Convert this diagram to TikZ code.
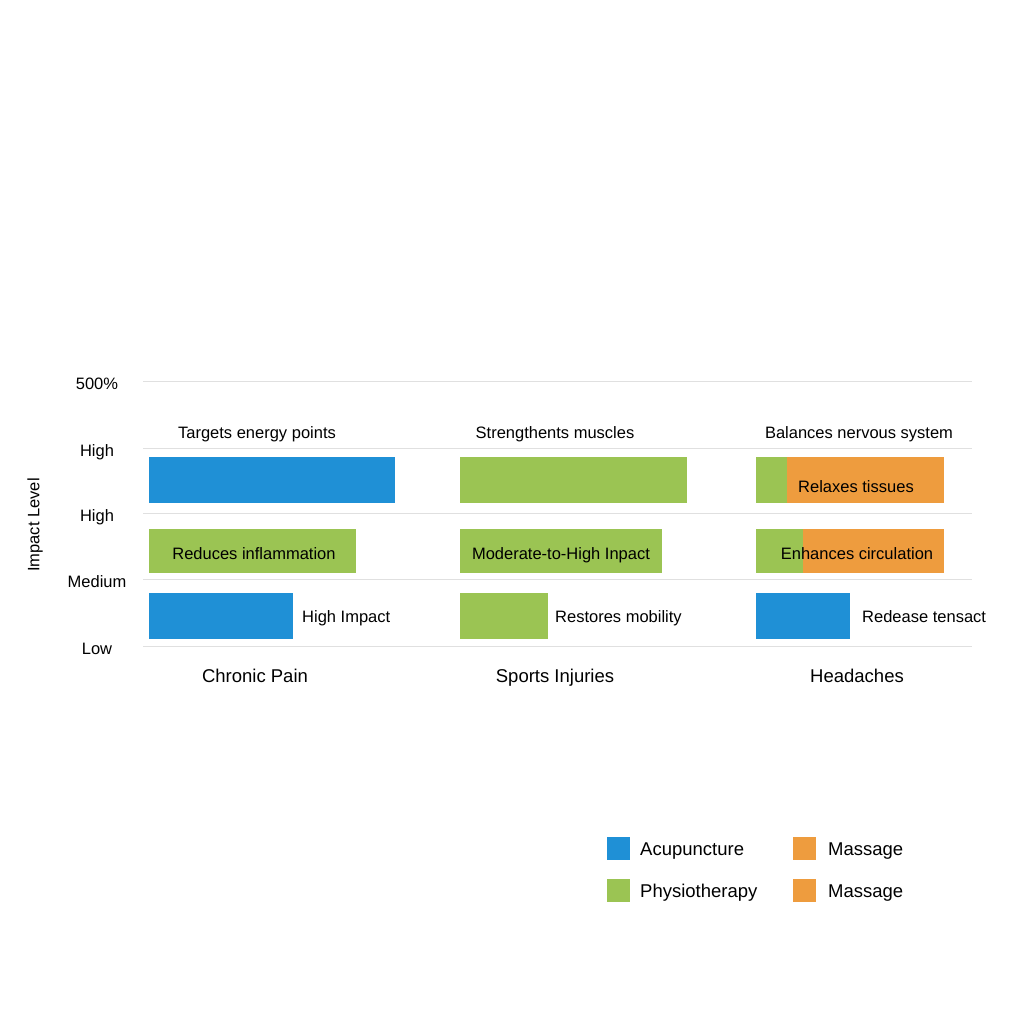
\documentclass[tikz,border=0pt]{standalone}
\usepackage{fontspec}
\setmainfont{Liberation Sans}
\definecolor{acublue}{HTML}{1F90D6}
\definecolor{physgreen}{HTML}{9BC453}
\definecolor{massorange}{HTML}{EE9C3E}
\tikzset{
  bar/.style={inner sep=0pt},
  lbl/.style={font=\fontsize{16.5}{19}\selectfont, inner sep=0pt, anchor=base},
  cat/.style={font=\fontsize{18.5}{21}\selectfont, inner sep=0pt, anchor=base},
  leg/.style={font=\fontsize{18.5}{21}\selectfont, inner sep=0pt, anchor=base west},
  grid/.style={draw=black!12, line width=0.8pt}
}
\begin{document}
\begin{tikzpicture}[x=1pt,y=-1pt]
    \useasboundingbox[fill=white] (0,0) rectangle (1024,1024);

    % grille et axe
    \foreach \y/\t in {381/500\%,448/High,513/High,579/Medium,646/Low}{
        \draw[grid] (143,\y) -- (972,\y);
        \node[lbl] at (97,\y+8) {\t};
    }
    \node[lbl, rotate=90, anchor=center] (axis) at (35,525) {Impact Level};

    % Chronic Pain
    \fill[acublue] (149,457) rectangle (395,503);
    \fill[physgreen] (149,529) rectangle (356,573);
    \fill[acublue] (149,593) rectangle (293,639);
    \node[lbl] (cp1) at (257,438) {Targets energy points};
    \node[lbl] (cp2) at (254,559) {Reduces inflammation};
    \node[lbl, anchor=base west] (cp3) at (302,622) {High Impact};
    \node[cat] (cp) at (255,682) {Chronic Pain};

    % Sports Injuries
    \fill[physgreen] (460,457) rectangle (687,503);
    \fill[physgreen] (460,529) rectangle (662,573);
    \fill[physgreen] (460,593) rectangle (548,639);
    \node[lbl] (si1) at (555,438) {Strengthents muscles};
    \node[lbl] (si2) at (561,559) {Moderate-to-High Inpact};
    \node[lbl, anchor=base west] (si3) at (555,622) {Restores mobility};
    \node[cat] (si) at (555,682) {Sports Injuries};

    % Headaches
    \fill[physgreen] (756,457) rectangle (787,503);
    \fill[massorange] (787,457) rectangle (944,503);
    \fill[physgreen] (756,529) rectangle (803,573);
    \fill[massorange] (803,529) rectangle (944,573);
    \fill[acublue] (756,593) rectangle (850,639);
    \node[lbl] (hd1) at (859,438) {Balances nervous system};
    \node[lbl] (hd2) at (856,492) {Relaxes tissues};
    \node[lbl] (hd3) at (857,559) {Enhances circulation};
    \node[lbl, anchor=base west] (hd4) at (862,622) {Redease tensact};
    \node[cat] (hd) at (857,682) {Headaches};

    % legende
    \fill[acublue] (607,837) rectangle (630,860);
    \node[leg] (la) at (640,855) {Acupuncture};
    \fill[massorange] (793,837) rectangle (816,860);
    \node[leg] (lm1) at (828,855) {Massage};
    \fill[physgreen] (607,879) rectangle (630,902);
    \node[leg] (lp) at (640,897) {Physiotherapy};
    \fill[massorange] (793,879) rectangle (816,902);
    \node[leg] (lm2) at (828,897) {Massage};
\end{tikzpicture}
\end{document}
